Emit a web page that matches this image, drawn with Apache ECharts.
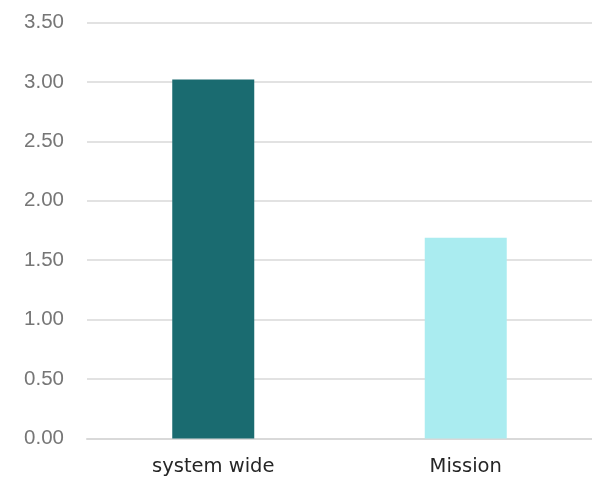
<!DOCTYPE html>
<html><head><meta charset="utf-8">
<script src="https://cdn.jsdelivr.net/npm/echarts@6/dist/echarts.min.js"></script>
<style>html,body{margin:0;padding:0;background:#fff}#c{width:592px;height:482px}</style>
</head><body><div id="c"></div>
<script>
const categories = ["system wide", "Mission"];
const values = [3.02, 1.69];
const barColors = ["#1a6b70", "#aaecf0"];
const chart = echarts.init(document.getElementById('c'), null, {renderer:'canvas'});
chart.setOption({
  animation:false,
  grid:{left:87, right:-3, top:22.5, bottom:43.5, containLabel:false},
  xAxis:{type:'category', data:categories,
    axisLine:{show:true, lineStyle:{color:'#d9d9d9', width:2}},
    axisTick:{show:false},
    axisLabel:{color:'#262626', fontSize:19.5, fontFamily:'DejaVu Sans, sans-serif', margin:18}},
  yAxis:{type:'value', min:0, max:3.5, interval:0.5,
    axisLine:{show:false}, axisTick:{show:false},
    splitLine:{lineStyle:{color:'#e2e2e2', width:2}},
    axisLabel:{color:'#767676', fontSize:20.5, fontFamily:'Liberation Sans, Arial, sans-serif', margin:23,
      formatter:v=>v.toFixed(2)}},
  series:[{type:'bar', barWidth:82,
    data: values.map((v,i)=>({value:v, itemStyle:{color:barColors[i]}}))}]
});
</script></body></html>
